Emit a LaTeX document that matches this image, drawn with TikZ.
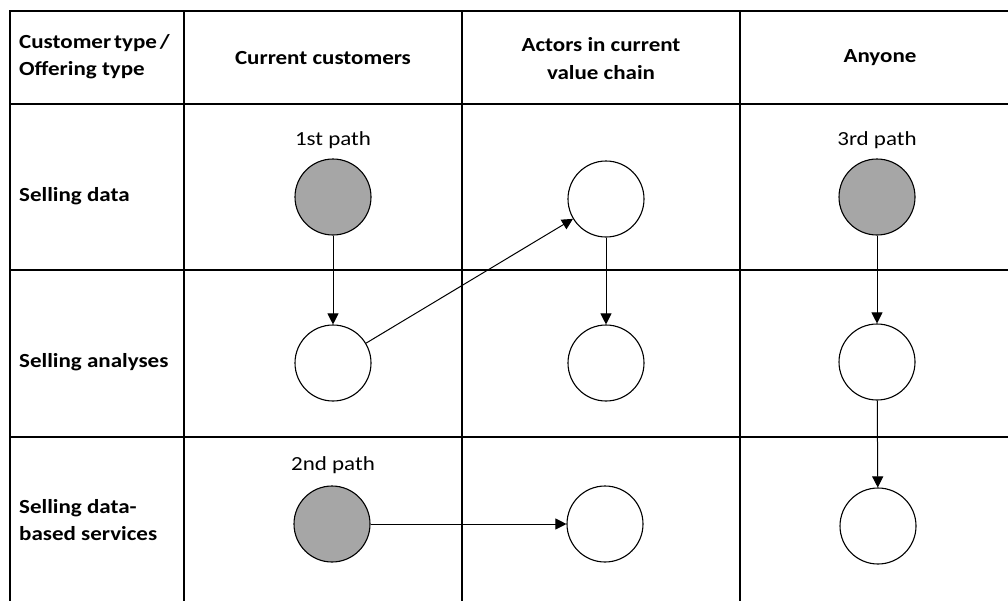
\documentclass[tikz,border=0pt]{standalone}
\usepackage{fontspec}
\setmainfont{Carlito}[FakeStretch=1.15]
\usetikzlibrary{arrows.meta}
\begin{document}
\begin{tikzpicture}[x=1pt,y=-1pt,
  grid/.style={line width=2.6pt,black},
  hd/.style={font=\fontsize{20}{28}\selectfont\bfseries,align=center,inner sep=0pt},
  rowlab/.style={font=\fontsize{20}{27}\selectfont\bfseries,align=left,anchor=west,inner sep=0pt},
  pathlab/.style={font=\fontsize{20}{24}\selectfont,inner sep=0pt},
  full/.style={circle,draw=black,line width=1.1pt,fill=black!35,minimum size=76pt,inner sep=0pt},
  empty/.style={circle,draw=black,line width=1.1pt,fill=white,minimum size=76pt,inner sep=0pt},
  link/.style={line width=1pt,-{Triangle[length=11pt,width=11pt]}}]
\useasboundingbox (0,0) rectangle (1008,600);
% grid
\draw[grid] (10,601) -- (10,11) -- (1009,11);
\draw[grid] (10,104) -- (1009,104);
\draw[grid] (10,270) -- (1009,270);
\draw[grid] (10,437) -- (1009,437);
\draw[grid] (184,11) -- (184,601);
\draw[grid] (462,11) -- (462,601);
\draw[grid] (740,11) -- (740,601);
% headers
\node[rowlab] (h0) at (19,57) {\spaceskip=0.15em Customer type /\\Offering type};
\node[hd] (h1) at (323,58) {Current customers};
\node[hd] (h2) at (601,59) {Actors in current\\value chain};
\node[hd] (h3) at (880,58) {Anyone};
% row labels
\node[rowlab] (r1) at (19,196) {Selling data};
\node[rowlab] (r2) at (19,362) {Selling analyses};
\node[rowlab] (r3) at (19,520) {Selling data-\\based services};
% path labels
\node[pathlab] (p1) at (333,140) {1st path};
\node[pathlab] (p3) at (877,140) {3rd path};
\node[pathlab] (p2) at (333,465) {2nd path};
% circles
\node[full]  (a1) at (333,197) {};
\node[empty] (b1) at (606,199) {};
\node[full]  (c1) at (877,197) {};
\node[empty] (a2) at (333,363) {};
\node[empty] (b2) at (606,363) {};
\node[empty] (c2) at (877,362) {};
\node[full]  (a3) at (332,524) {};
\node[empty] (b3) at (605,524) {};
\node[empty] (c3) at (878,526) {};
% connectors
\draw[link] (a1) -- (a2);
\draw[link] (a2) -- (b1);
\draw[link] (b1) -- (b2);
\draw[link] (c1) -- (c2);
\draw[link] (c2) -- (c3);
\draw[link] (a3) -- (b3);
\end{tikzpicture}
\end{document}
